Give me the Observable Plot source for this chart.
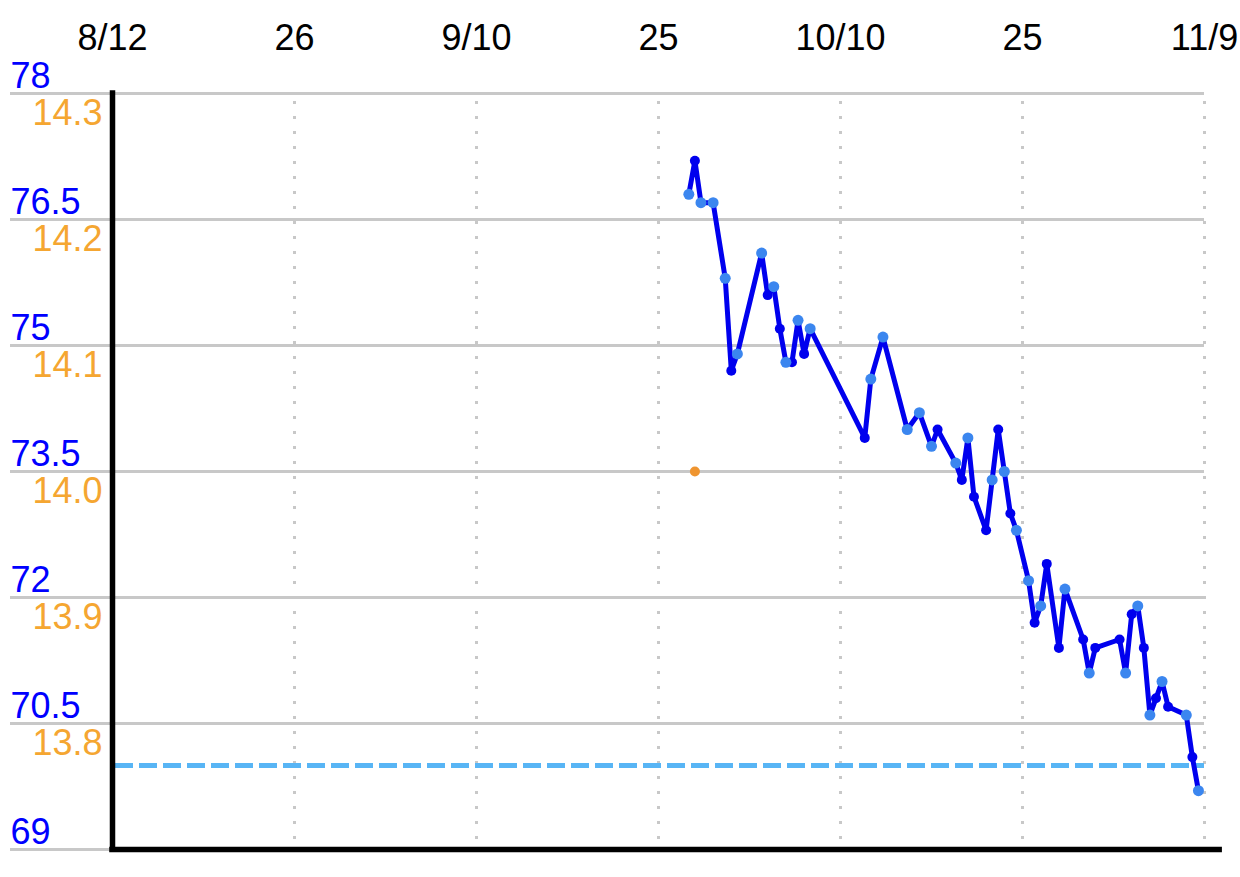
<!DOCTYPE html>
<html>
<head>
<meta charset="utf-8">
<script src="https://cdn.jsdelivr.net/npm/d3@7"></script>
<script src="https://cdn.jsdelivr.net/npm/@observablehq/plot@0.6"></script>
<style>
  html, body { margin: 0; padding: 0; background: #fff; }
  #chart svg { display: block; }
</style>
</head>
<body>
<div id="chart"></div>
<script>
// ---- data ----
const weightTimes = [
  "2019-09-27T12:00Z","2019-09-28T00:00Z","2019-09-28T12:00Z","2019-09-29T12:00Z","2019-09-30T12:00Z",
  "2019-10-01T00:00Z","2019-10-01T12:00Z","2019-10-03T12:00Z","2019-10-04T00:00Z","2019-10-04T12:00Z",
  "2019-10-05T00:00Z","2019-10-05T12:00Z","2019-10-06T00:00Z","2019-10-06T12:00Z","2019-10-07T00:00Z",
  "2019-10-07T12:00Z","2019-10-12T00:00Z","2019-10-12T12:00Z","2019-10-13T12:00Z","2019-10-15T12:00Z",
  "2019-10-16T12:00Z","2019-10-17T12:00Z","2019-10-18T00:00Z","2019-10-19T12:00Z","2019-10-20T00:00Z",
  "2019-10-20T12:00Z","2019-10-21T00:00Z","2019-10-22T00:00Z","2019-10-22T12:00Z","2019-10-23T00:00Z",
  "2019-10-23T12:00Z","2019-10-24T00:00Z","2019-10-24T12:00Z","2019-10-25T12:00Z","2019-10-26T00:00Z",
  "2019-10-26T12:00Z","2019-10-27T00:00Z","2019-10-28T00:00Z","2019-10-28T12:00Z","2019-10-30T00:00Z",
  "2019-10-30T12:00Z","2019-10-31T00:00Z","2019-11-02T00:00Z","2019-11-02T12:00Z","2019-11-03T00:00Z",
  "2019-11-03T12:00Z","2019-11-04T00:00Z","2019-11-04T12:00Z","2019-11-05T00:00Z","2019-11-05T12:00Z",
  "2019-11-06T00:00Z","2019-11-07T12:00Z","2019-11-08T00:00Z","2019-11-08T12:00Z"
];
const weightValues = [
  76.8, 77.2, 76.7, 76.7, 75.8, 74.7, 74.9, 76.1, 75.6, 75.7,
  75.2, 74.8, 74.8, 75.3, 74.9, 75.2, 73.9, 74.6, 75.1, 74.0,
  74.2, 73.8, 74.0, 73.6, 73.4, 73.9, 73.2, 72.8, 73.4, 74.0,
  73.5, 73.0, 72.8, 72.2, 71.7, 71.9, 72.4, 71.4, 72.1, 71.5,
  71.1, 71.4, 71.5, 71.1, 71.8, 71.9, 71.4, 70.6, 70.8, 71.0,
  70.7, 70.6, 70.1, 69.7
];
const fatTimes = ["2019-09-28T00:00Z"];
const fatValues = [14.0];
const targetWeight = 70;

const xTickDates = ["2019-08-11","2019-08-26","2019-09-10","2019-09-25","2019-10-10","2019-10-25","2019-11-09"];
const xTickLabels = ["8/12","26","9/10","25","10/10","25","11/9"];
const weightTicks = [78, 76.5, 75, 73.5, 72, 70.5, 69];
const fatTicks = [14.3, 14.2, 14.1, 14.0, 13.9, 13.8];

// ---- derived tables ----
const parse = s => new Date(s);
const weights = weightTimes.map((t, i) => ({date: parse(t), value: weightValues[i]}));
const xTicks = xTickDates.map(d => new Date(d + "T00:00Z"));
const xStart = xTicks[0], xEnd = xTicks[xTicks.length - 1];
// fat (%) axis shares gridlines with weight axis
const fatToWeight = d3.scaleLinear()
  .domain([fatTicks[0], fatTicks[fatTicks.length - 1]])
  .range([weightTicks[0], weightTicks[fatTicks.length - 1]]);
const fat = fatTimes.map((t, i) => ({date: parse(t), value: fatToWeight(fatValues[i])}));
const isEvening = d => d.date.getUTCHours() === 12;

const FONT = "'Liberation Sans', Arial, Helvetica, sans-serif";
const GRID = "#c8c8c8";

const chart = Plot.plot({
  width: 1240,
  height: 877,
  marginLeft: 112,
  marginRight: 36,
  marginTop: 93,
  marginBottom: 28,
  style: {fontFamily: FONT, background: "white"},
  x: {type: "utc", domain: [xStart, xEnd], label: null},
  y: {domain: [weightTicks[weightTicks.length - 1], weightTicks[0]], label: null},
  marks: [
    Plot.gridY(weightTicks, {stroke: GRID, strokeOpacity: 1, strokeWidth: 3}),
    Plot.axisY(weightTicks, {tickSize: 102, tickFormat: () => "", label: null, stroke: GRID, strokeWidth: 3}),
    Plot.gridX(xTicks, {stroke: GRID, strokeOpacity: 1, strokeWidth: 3, strokeDasharray: "3,12", strokeDashoffset: 7}),
    Plot.text(weightTicks, {
      y: d => d, text: d => String(d), frameAnchor: "left", textAnchor: "start",
      lineAnchor: "bottom", dx: -102, dy: -6, fill: "#0000ff", fontSize: 36
    }),
    Plot.text(fatTicks, {
      y: d => fatToWeight(d), text: d => d.toFixed(1), frameAnchor: "left", textAnchor: "end",
      lineAnchor: "top", dx: -10, dy: 6, fill: "#f5a631", fontSize: 36
    }),
    Plot.ruleY([targetWeight], {stroke: "#58b5f5", strokeWidth: 5, strokeDasharray: "18,6", strokeDashoffset: 21}),
    Plot.ruleX([xStart], {stroke: "black", strokeWidth: 5.5, strokeLinecap: "square"}),
    Plot.ruleY([weightTicks[weightTicks.length - 1]], {
      x1: xStart, x2: d3.utcHour.offset(xEnd, 30), stroke: "black", strokeWidth: 5.5, strokeLinecap: "square"
    }),
    Plot.line(weights, {x: "date", y: "value", stroke: "#0000ee", strokeWidth: 5, strokeLinejoin: "round"}),
    Plot.dot(weights.filter(d => !isEvening(d)), {x: "date", y: "value", r: 5, fill: "#0000ee"}),
    Plot.dot(weights.filter(isEvening), {x: "date", y: "value", r: 5.5, fill: "#3b86ef"}),
    Plot.dot(fat, {x: "date", y: "value", r: 5, fill: "#ef9530"}),
    Plot.axisX(xTicks, {
      anchor: "top", tickSize: 0, tickPadding: 44, fontSize: 36, fill: "black", label: null,
      tickFormat: d => xTickLabels[xTicks.findIndex(t => +t === +d)]
    })
  ]
});
document.getElementById("chart").appendChild(chart);
</script>
</body>
</html>
